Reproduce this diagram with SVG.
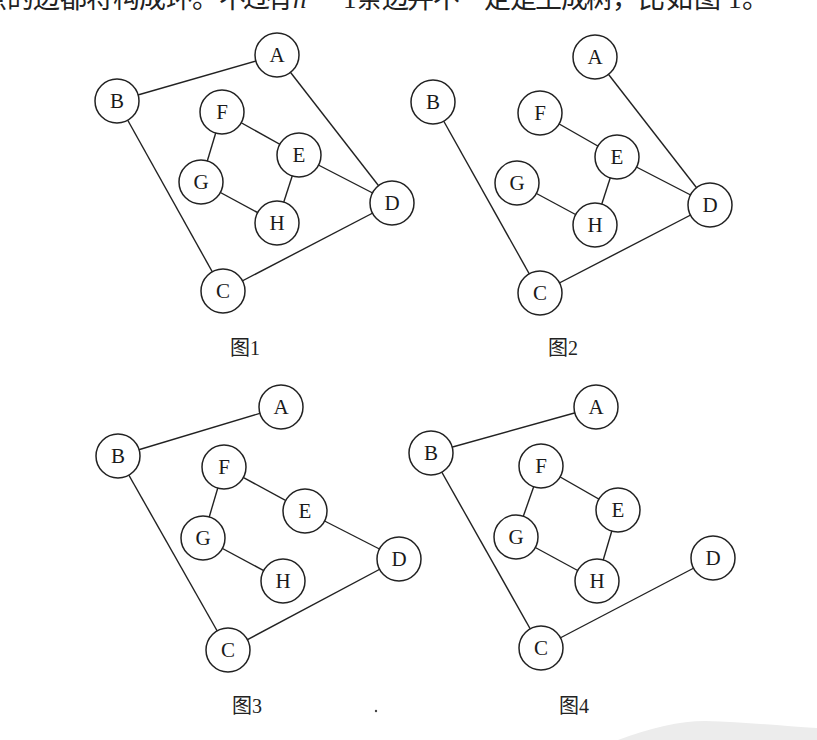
<svg xmlns="http://www.w3.org/2000/svg" width="817" height="740" viewBox="0 0 817 740">
<style>
.e line{stroke:#222;stroke-width:1.4}
.n circle{fill:#fff;stroke:#222;stroke-width:1.5}
.n text{font-family:"Liberation Serif","Noto Sans CJK SC",serif;font-size:21px;fill:#1a1a1a;text-anchor:middle}
.cap{font-family:"Liberation Serif","Noto Sans CJK SC",serif;font-size:20px;fill:#222}
.top{font-family:"Liberation Serif","Noto Sans CJK SC",serif;font-size:27px;fill:#222}
</style>
<rect width="817" height="740" fill="#fff"/>
<path d="M618 740 C 650 728, 680 721, 705 721 C 745 722, 785 726, 817 728 L 817 740 Z" fill="#ececec"/>
<text class="top" x="-20 7 33 60 86 113 139 166 192 219 243 266" y="8">点的边都将构成环。不过有</text>
<text class="top" x="293" y="8" font-style="italic">n</text>
<text class="top" x="316" y="8">−</text>
<text class="top" x="343" y="8">1</text>
<text class="top" x="356 382 407 433 458 484 510 535 561 586 612 638 666 694" y="8">条边并不一定是生成树，比如图</text>
<text class="top" x="728" y="8">1</text>
<text class="top" x="742" y="8">。</text>

<g id="connectors" class="e">
<!-- graph 1 -->
<line x1="277" y1="55" x2="117" y2="101"/>
<line x1="277" y1="55" x2="392" y2="203"/>
<line x1="117" y1="101" x2="223" y2="291"/>
<line x1="223" y1="291" x2="392" y2="203"/>
<line x1="222" y1="112" x2="299" y2="155"/>
<line x1="222" y1="112" x2="201" y2="182"/>
<line x1="299" y1="155" x2="392" y2="203"/>
<line x1="299" y1="155" x2="277" y2="223"/>
<line x1="201" y1="182" x2="277" y2="223"/>
<!-- graph 2 -->
<line x1="595" y1="57" x2="710" y2="205"/>
<line x1="433" y1="102" x2="540" y2="293"/>
<line x1="540" y1="293" x2="710" y2="205"/>
<line x1="540" y1="113" x2="617" y2="157"/>
<line x1="617" y1="157" x2="710" y2="205"/>
<line x1="617" y1="157" x2="595" y2="225"/>
<line x1="517" y1="183" x2="595" y2="225"/>
<!-- graph 3 -->
<line x1="118" y1="456" x2="281" y2="407"/>
<line x1="118" y1="456" x2="228" y2="650"/>
<line x1="228" y1="650" x2="399" y2="559"/>
<line x1="399" y1="559" x2="305" y2="511"/>
<line x1="305" y1="511" x2="224" y2="467"/>
<line x1="224" y1="467" x2="203" y2="538"/>
<line x1="203" y1="538" x2="283" y2="581"/>
<!-- graph 4 -->
<line x1="431" y1="453" x2="596" y2="407"/>
<line x1="431" y1="453" x2="541" y2="648"/>
<line x1="541" y1="648" x2="713" y2="558"/>
<line x1="541" y1="466" x2="618" y2="510"/>
<line x1="541" y1="466" x2="516" y2="537"/>
<line x1="516" y1="537" x2="597" y2="581"/>
<line x1="597" y1="581" x2="618" y2="510"/>
</g>

<g id="g1">
<g id="g1-A" class="n"><circle cx="277" cy="55" r="22"/><text x="277" y="62">A</text></g>
<g id="g1-B" class="n"><circle cx="117" cy="101" r="22"/><text x="117" y="108">B</text></g>
<g id="g1-F" class="n"><circle cx="222" cy="112" r="22"/><text x="222" y="119">F</text></g>
<g id="g1-E" class="n"><circle cx="299" cy="155" r="22"/><text x="299" y="162">E</text></g>
<g id="g1-G" class="n"><circle cx="201" cy="182" r="22"/><text x="201" y="189">G</text></g>
<g id="g1-D" class="n"><circle cx="392" cy="203" r="22"/><text x="392" y="210">D</text></g>
<g id="g1-H" class="n"><circle cx="277" cy="223" r="22"/><text x="277" y="230">H</text></g>
<g id="g1-C" class="n"><circle cx="223" cy="291" r="22"/><text x="223" y="298">C</text></g>
<text class="cap" x="230" y="355">图1</text>
</g>

<g id="g2">
<g id="g2-A" class="n"><circle cx="595" cy="57" r="22"/><text x="595" y="64">A</text></g>
<g id="g2-B" class="n"><circle cx="433" cy="102" r="22"/><text x="433" y="109">B</text></g>
<g id="g2-F" class="n"><circle cx="540" cy="113" r="22"/><text x="540" y="120">F</text></g>
<g id="g2-E" class="n"><circle cx="617" cy="157" r="22"/><text x="617" y="164">E</text></g>
<g id="g2-G" class="n"><circle cx="517" cy="183" r="22"/><text x="517" y="190">G</text></g>
<g id="g2-D" class="n"><circle cx="710" cy="205" r="22"/><text x="710" y="212">D</text></g>
<g id="g2-H" class="n"><circle cx="595" cy="225" r="22"/><text x="595" y="232">H</text></g>
<g id="g2-C" class="n"><circle cx="540" cy="293" r="22"/><text x="540" y="300">C</text></g>
<text class="cap" x="548" y="355">图2</text>
</g>

<g id="g3">
<g id="g3-A" class="n"><circle cx="281" cy="407" r="22"/><text x="281" y="414">A</text></g>
<g id="g3-B" class="n"><circle cx="118" cy="456" r="22"/><text x="118" y="463">B</text></g>
<g id="g3-F" class="n"><circle cx="224" cy="467" r="22"/><text x="224" y="474">F</text></g>
<g id="g3-E" class="n"><circle cx="305" cy="511" r="22"/><text x="305" y="518">E</text></g>
<g id="g3-G" class="n"><circle cx="203" cy="538" r="22"/><text x="203" y="545">G</text></g>
<g id="g3-D" class="n"><circle cx="399" cy="559" r="22"/><text x="399" y="566">D</text></g>
<g id="g3-H" class="n"><circle cx="283" cy="581" r="22"/><text x="283" y="588">H</text></g>
<g id="g3-C" class="n"><circle cx="228" cy="650" r="22"/><text x="228" y="657">C</text></g>
<text class="cap" x="232" y="713">图3</text>
</g>

<g id="g4">
<g id="g4-A" class="n"><circle cx="596" cy="407" r="22"/><text x="596" y="414">A</text></g>
<g id="g4-B" class="n"><circle cx="431" cy="453" r="22"/><text x="431" y="460">B</text></g>
<g id="g4-F" class="n"><circle cx="541" cy="466" r="22"/><text x="541" y="473">F</text></g>
<g id="g4-E" class="n"><circle cx="618" cy="510" r="22"/><text x="618" y="517">E</text></g>
<g id="g4-G" class="n"><circle cx="516" cy="537" r="22"/><text x="516" y="544">G</text></g>
<g id="g4-D" class="n"><circle cx="713" cy="558" r="22"/><text x="713" y="565">D</text></g>
<g id="g4-H" class="n"><circle cx="597" cy="581" r="22"/><text x="597" y="588">H</text></g>
<g id="g4-C" class="n"><circle cx="541" cy="648" r="22"/><text x="541" y="655">C</text></g>
<text class="cap" x="559" y="713">图4</text>
</g>
<circle cx="376" cy="711" r="1.2" fill="#444"/>
</svg>
